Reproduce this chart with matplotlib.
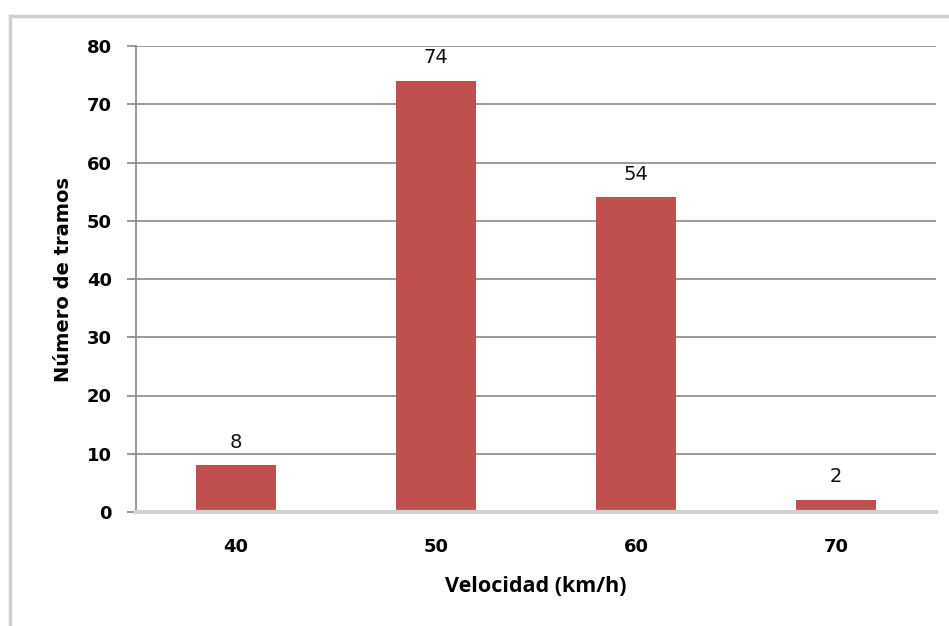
import matplotlib
matplotlib.use("Agg")
import matplotlib.pyplot as plt
from matplotlib.lines import Line2D

categories = ["40", "50", "60", "70"]
values = [8, 74, 54, 2]
yticks = [0, 10, 20, 30, 40, 50, 60, 70, 80]
xlabel = "Velocidad (km/h)"
ylabel = "Número de tramos"

W, H = 949, 626
fig = plt.figure(figsize=(W / 100, H / 100), dpi=100)
fig.patch.set_facecolor("white")

# outer frame (left and top edges visible)
fig.add_artist(Line2D([10 / W, 10 / W], [0, 1 - 16 / H], transform=fig.transFigure,
                      color="#d0d0d0", lw=2.5))
fig.add_artist(Line2D([10 / W, 1], [1 - 16 / H, 1 - 16 / H], transform=fig.transFigure,
                      color="#d0d0d0", lw=2.5))

left, right, top, bottom = 136, 936, 46, 512
ax = fig.add_axes([left / W, 1 - bottom / H, (right - left) / W, (bottom - top) / H])
ax.set_facecolor("white")

x = list(range(len(categories)))
ax.bar(x, values, width=0.4, color="#C0504D", zorder=3)
ax.set_xlim(-0.5, len(categories) - 0.5)
ax.set_ylim(0, 80)
ax.set_yticks(yticks)
ax.set_xticks(x)
ax.set_xticklabels(categories)

for s in ["top", "right", "bottom"]:
    ax.spines[s].set_visible(False)
ax.spines["left"].set_color("#888888")
ax.spines["left"].set_linewidth(1.2)
ax.axhline(0, color="#d0d0d0", lw=3, zorder=4, clip_on=False)

ax.grid(axis="y", color="#8a8a8a", lw=1.2, zorder=0)
ax.tick_params(axis="y", length=6.5, width=1.2, color="#888888", pad=11,
               labelsize=13)
ax.tick_params(axis="x", length=0, pad=19, labelsize=13)
for t in ax.get_yticklabels() + ax.get_xticklabels():
    t.set_fontfamily("DejaVu Sans")
    t.set_fontweight("bold")

for xi, v in zip(x, values):
    ax.annotate(str(v), (xi, v), xytext=(0, 10), textcoords="offset points",
                ha="center", va="bottom", fontsize=14, family="DejaVu Sans",
                color="#111111")

ax.set_xlabel(xlabel, fontsize=15.5, family="Open Sans", fontweight="bold", labelpad=14)
ax.set_ylabel(ylabel, fontsize=14, family="DejaVu Sans", fontweight="bold",
              labelpad=10)

fig.savefig("out.png", dpi=100, facecolor="white")
